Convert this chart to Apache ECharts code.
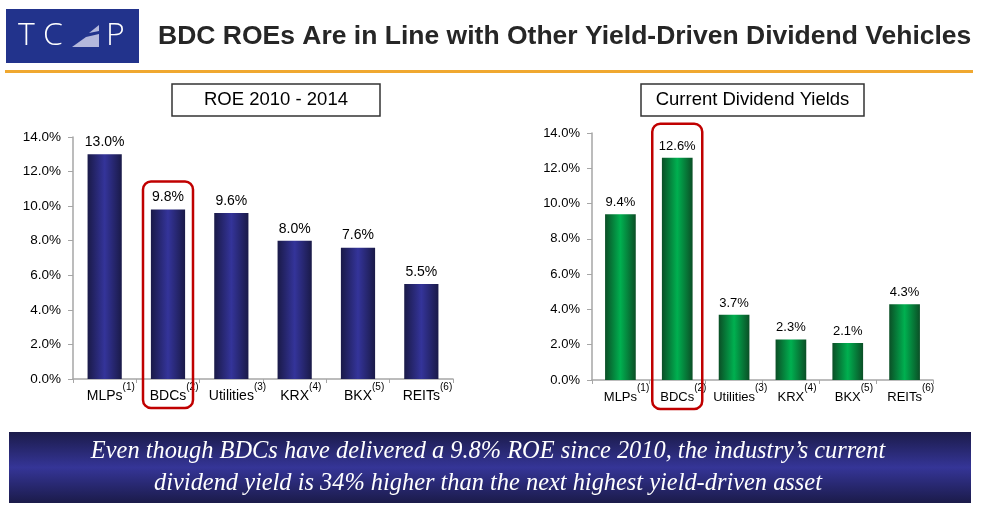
<!DOCTYPE html>
<html>
<head>
<meta charset="utf-8">
<script src="https://cdn.jsdelivr.net/npm/echarts@6/dist/echarts.min.js"></script>
<style>
    html, body { margin: 0; padding: 0; background: #fff; }
    #chart { width: 983px; height: 508px; }
</style>
</head>
<body>
<div id="chart"></div>
<script>
// Chart data
const categories = ['MLPs', 'BDCs', 'Utilities', 'KRX', 'BKX', 'REITs'];
const footnotes = ['(1)', '(2)', '(3)', '(4)', '(5)', '(6)'];
const roeValues = [13.0, 9.8, 9.6, 8.0, 7.6, 5.5];
const yieldValues = [9.4, 12.6, 3.7, 2.3, 2.1, 4.3];
const yMin = 0;
const yMax = 14;
const yStep = 2;

const pageTitle = 'BDC ROEs Are in Line with Other Yield-Driven Dividend Vehicles';
const leftTitle = 'ROE 2010 - 2014';
const rightTitle = 'Current Dividend Yields';
const bannerLines = [
    'Even though BDCs have delivered a 9.8% ROE since 2010, the industry\u2019s current',
    'dividend yield is 34% higher than the next highest yield-driven asset'
];

const chart = echarts.init(document.getElementById('chart'));

// Bar fills (horizontal shading like the slide)
const navyFill = new echarts.graphic.LinearGradient(0, 0, 1, 0, [
    { offset: 0, color: '#1a1a48' },
    { offset: 0.5, color: '#34349a' },
    { offset: 1, color: '#1a1a48' }
]);
const greenFill = new echarts.graphic.LinearGradient(0, 0, 1, 0, [
    { offset: 0, color: '#0b4f26' },
    { offset: 0.5, color: '#00b050' },
    { offset: 1, color: '#0b4f26' }
]);

function xAxisFor(gridIndex, size) {
    return {
        type: 'category',
        gridIndex: gridIndex,
        data: categories,
        axisLine: { lineStyle: { color: '#a6a6a6', width: 1.5 } },
        axisTick: { show: true, length: 4, lineStyle: { color: '#a6a6a6' } },
        axisLabel: {
            interval: 0,
            margin: 3,
            formatter: function (v, i) {
                // invisible copy of the footnote on the left keeps the name centred
                return '{p|' + footnotes[i] + '}{n|' + v + '}{s|' + footnotes[i] + '}';
            },
            rich: {
                p: { fontSize: 10, color: 'transparent', verticalAlign: 'top', fontFamily: 'Liberation Sans' },
                n: { fontSize: size, color: '#000', lineHeight: 21, verticalAlign: 'bottom', fontFamily: 'Liberation Sans' },
                s: { fontSize: 10, color: '#000', verticalAlign: 'top', fontFamily: 'Liberation Sans' }
            }
        }
    };
}

function yAxisFor(gridIndex, size) {
    return {
        type: 'value',
        gridIndex: gridIndex,
        min: yMin,
        max: yMax,
        interval: yStep,
        splitLine: { show: false },
        axisLine: { show: true, lineStyle: { color: '#a6a6a6', width: 1.5 } },
        axisTick: { show: true, length: 5, lineStyle: { color: '#a6a6a6' } },
        axisLabel: {
            color: '#000',
            fontSize: size,
            fontFamily: 'Liberation Sans',
            margin: 12,
            formatter: function (v) { return v.toFixed(1) + '%'; }
        }
    };
}

function barSeries(idx, values, fill, labelSize) {
    return {
        type: 'bar',
        xAxisIndex: idx,
        yAxisIndex: idx,
        data: values,
        barWidth: '54%',
        itemStyle: { color: fill },
        label: {
            show: true,
            position: 'top',
            distance: 5,
            color: '#000',
            fontSize: labelSize,
            fontFamily: 'Liberation Sans',
            formatter: function (p) { return p.value.toFixed(1) + '%'; }
        }
    };
}

function titleBox(id, x, w, text) {
    return {
        type: 'group', id: id, x: x, y: 84,
        children: [
            { type: 'rect', shape: { x: 0, y: 0, width: w, height: 32 },
              style: { fill: '#fff', stroke: '#333', lineWidth: 1.5 } },
            { type: 'text', x: w / 2, y: 16,
              style: { text: text, fill: '#000', font: '18.5px "Liberation Sans"',
                       align: 'center', verticalAlign: 'middle' } }
        ]
    };
}

const option = {
    animation: false,
    grid: [
        { left: 73, right: 530, top: 137, bottom: 129 },
        { left: 592, right: 50, top: 133, bottom: 128 }
    ],
    xAxis: [xAxisFor(0, 14), xAxisFor(1, 13)],
    yAxis: [yAxisFor(0, 13.5), yAxisFor(1, 13)],
    series: [
        barSeries(0, roeValues, navyFill, 14),
        barSeries(1, yieldValues, greenFill, 13)
    ],
    graphic: [
        // Logo
        { type: 'rect', id: 'logoBg', shape: { x: 6, y: 9, width: 133, height: 54 },
          style: { fill: '#22338c' } },
        { type: 'text', id: 'logoTC', x: 18, y: 36,
          style: { text: 'T C', fill: '#fff', font: '300 32px "Open Sans"', verticalAlign: 'middle' } },
        { type: 'polygon', id: 'logoTri1', shape: { points: [[72, 47], [86, 37], [99, 34], [99, 47]] },
          style: { fill: '#b4b8dc' } },
        { type: 'polygon', id: 'logoTri2', shape: { points: [[89, 33], [99, 25], [99, 31]] },
          style: { fill: '#b4b8dc' } },
        { type: 'text', id: 'logoP', x: 106, y: 36,
          style: { text: 'P', fill: '#fff', font: '300 32px "Open Sans"', verticalAlign: 'middle' } },
        // Page title and rule
        { type: 'text', id: 'pageTitle', x: 158, y: 37,
          style: { text: pageTitle, fill: '#262626', font: 'bold 26.5px "Liberation Sans"',
                   verticalAlign: 'middle' } },
        { type: 'rect', id: 'rule', shape: { x: 5, y: 70, width: 968, height: 3 },
          style: { fill: '#f0a830' } },
        // Chart titles
        titleBox('leftTitle', 172, 208, leftTitle),
        titleBox('rightTitle', 641, 223, rightTitle),
        // Bottom banner
        { type: 'rect', id: 'banner', shape: { x: 9, y: 432, width: 962, height: 71 },
          style: { fill: new echarts.graphic.LinearGradient(0, 0, 0, 1, [
              { offset: 0, color: '#1b1b4a' },
              { offset: 0.5, color: '#353597' },
              { offset: 1, color: '#1b1b4a' }
          ]) } },
        { type: 'text', id: 'banner1', x: 488, y: 452,
          style: { text: bannerLines[0], fill: '#fff', font: 'italic 24.4px "Liberation Serif"',
                   align: 'center', verticalAlign: 'middle' } },
        { type: 'text', id: 'banner2', x: 488, y: 484,
          style: { text: bannerLines[1], fill: '#fff', font: 'italic 24.4px "Liberation Serif"',
                   align: 'center', verticalAlign: 'middle' } }
    ]
};
chart.setOption(option);

// Red highlight boxes around the BDCs bars, placed from the axes
function highlightBox(id, idx, value, topGap) {
    const cx = chart.convertToPixel({ xAxisIndex: idx }, 'BDCs');
    const yTop = chart.convertToPixel({ yAxisIndex: idx }, value) - topGap;
    const yBase = chart.convertToPixel({ yAxisIndex: idx }, 0);
    return {
        type: 'rect', id: id,
        shape: { x: cx - 25, y: yTop, width: 50, height: yBase + 29 - yTop, r: 8 },
        style: { fill: 'none', stroke: '#c00000', lineWidth: 2.5 },
        z: 10
    };
}

chart.setOption({
    graphic: [
        highlightBox('boxLeft', 0, roeValues[1], 28),
        highlightBox('boxRight', 1, yieldValues[1], 34)
    ]
});
</script>
</body>
</html>
